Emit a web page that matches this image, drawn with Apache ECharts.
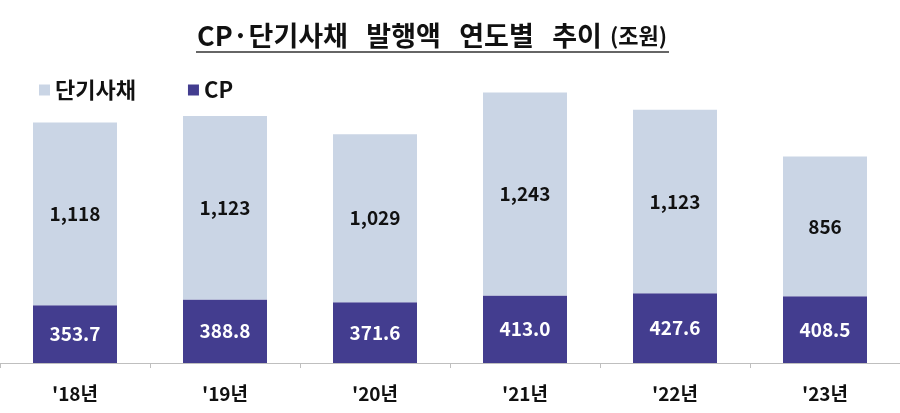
<!DOCTYPE html>
<html>
<head>
<meta charset="utf-8">
<script src="https://cdn.jsdelivr.net/npm/echarts@6/dist/echarts.min.js"></script>
<style>
  html, body { margin: 0; padding: 0; background: #fff; }
  #main { width: 900px; height: 413px; }
</style>
</head>
<body>
<div id="main"></div>
<script>
// 데이터
const years = ["'18년", "'19년", "'20년", "'21년", "'22년", "'23년"]
const cpValues = [353.7, 388.8, 371.6, 413.0, 427.6, 408.5]
const stbValues = [1118, 1123, 1029, 1243, 1123, 856]

const font = '"Noto Sans CJK KR", "Noto Sans", sans-serif'

const chart = echarts.init(document.getElementById('main'))
chart.setOption({
  backgroundColor: '#fff',
  textStyle: { fontFamily: font },
  title: {
    text: '{a|CP·단기사채   발행액   연도별   추이}  {b|(조원)}',
    left: 192,
    top: 17,
    textStyle: {
      rich: {
        a: { fontFamily: font, fontSize: 27, fontWeight: 'bold', color: '#111' },
        b: { fontFamily: font, fontSize: 22, fontWeight: 'bold', color: '#111' }
      }
    }
  },
  // 제목 밑줄
  graphic: [{
    type: 'line',
    shape: { x1: 196, y1: 52, x2: 669, y2: 52 },
    style: { stroke: '#333', lineWidth: 1.5 }
  }],
  legend: {
    data: ['단기사채', 'CP'],
    left: 34,
    top: 74,
    itemWidth: 11,
    itemHeight: 11,
    itemGap: 52,
    icon: 'rect',
    textStyle: { fontFamily: font, fontSize: 22, fontWeight: 'bold', color: '#111' }
  },
  grid: { left: 0, right: 0, top: 69, bottom: 50 },
  xAxis: {
    type: 'category',
    data: years,
    axisLine: { lineStyle: { color: '#bfbfbf', width: 1 } },
    axisTick: { show: true, length: 5, lineStyle: { color: '#bfbfbf' } },
    axisLabel: {
      margin: 21,
      fontFamily: font, fontSize: 19, fontWeight: 'bold', color: '#111'
    }
  },
  yAxis: {
    type: 'value',
    min: 0,
    max: 1800,
    show: false,
    splitLine: { show: false }
  },
  series: [
    {
      name: 'CP',
      type: 'bar',
      stack: 'total',
      barWidth: 84,
      data: cpValues,
      itemStyle: { color: '#433d8f' },
      label: {
        show: true,
        position: 'inside',
        formatter: p => p.value.toFixed(1),
        fontFamily: font, fontSize: 19, fontWeight: 'bold', color: '#fff'
      }
    },
    {
      name: '단기사채',
      type: 'bar',
      stack: 'total',
      barWidth: 84,
      data: stbValues,
      itemStyle: { color: '#cad5e5' },
      label: {
        show: true,
        position: 'inside',
        formatter: p => p.value.toLocaleString('en-US'),
        fontFamily: font, fontSize: 19, fontWeight: 'bold', color: '#111'
      }
    }
  ]
})
</script>
</body>
</html>
